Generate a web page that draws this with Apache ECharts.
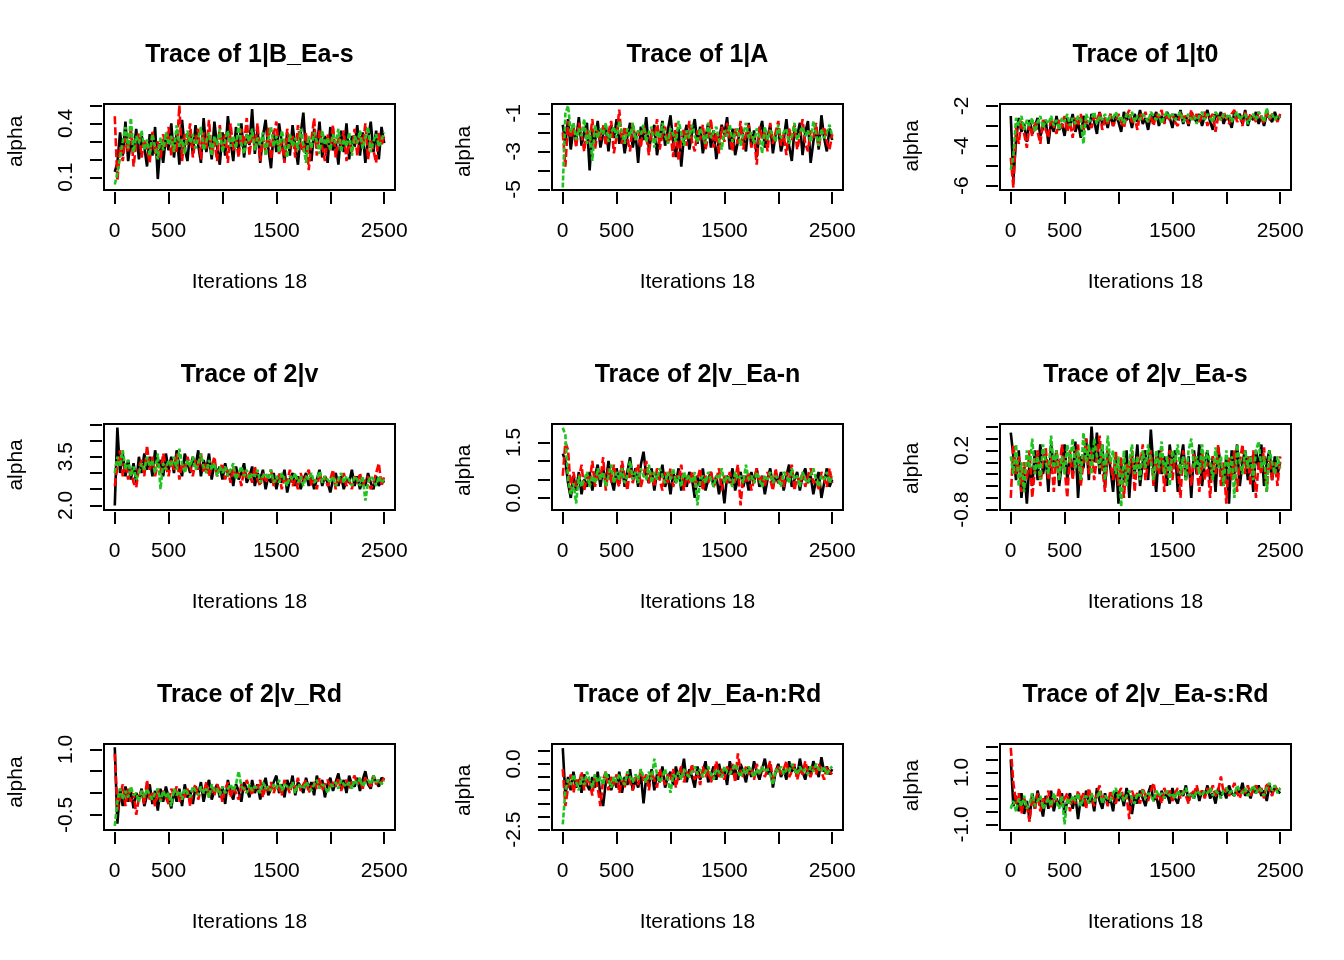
<!DOCTYPE html>
<html><head><meta charset="utf-8">
<script src="https://cdn.jsdelivr.net/npm/echarts/dist/echarts.min.js"></script>
<style>html,body{margin:0;padding:0;background:#fff}#c{width:1344px;height:960px}</style>
</head><body><div id="c"></div>
<script>
// ---------- data (one value every 25 iterations) ----------
const ITER = Array.from({length: 101}, (_, i) => (i === 0 ? 1 : i * 25));
const X_TICK_LABELS = [0, 500, 1500, 2500];
const TITLES = ['Trace of 1|B_Ea-s', 'Trace of 1|A', 'Trace of 1|t0',
  'Trace of 2|v', 'Trace of 2|v_Ea-n', 'Trace of 2|v_Ea-s',
  'Trace of 2|v_Rd', 'Trace of 2|v_Ea-n:Rd', 'Trace of 2|v_Ea-s:Rd'];
const X_NAME = 'Iterations 18';
const Y_NAME = 'alpha';
// y tick range [first, last, step], labels shown, plotted range
const Y_TICKS = [[0.1,0.5,0.1],[-5,-1,1],[-6,-2,1],[2,4.5,0.5],[0,1.5,0.5],[-0.8,0.6,0.2],[-0.5,1,0.5],[-2.5,0.5,0.5],[-1,2,0.5]];
const Y_TICK_LABELS = [[0.1,0.4],[-5,-3,-1],[-6,-4,-2],[2,3.5],[0,1.5],[-0.8,0.2],[-0.5,1],[-2.5,0],[-1,1]];
const Y_DEC = [1,0,0,1,1,1,1,1,1];
const Y_RANGE = [[0.029,0.508],[-5.03,-0.507],[-6.22,-1.9],[1.86,4.51],[-0.327,2.0],[-0.805,0.645],[-0.846,1.123],[-2.51,0.754],[-1.22,2.1]];

const p1_black = [0.13,0.18,0.35,0.22,0.41,0.19,0.30,0.24,0.37,0.20,
0.33,0.27,0.16,0.34,0.22,0.38,0.09,0.29,0.18,0.33,
0.25,0.40,0.21,0.35,0.17,0.42,0.26,0.19,0.36,0.23,
0.39,0.28,0.18,0.43,0.24,0.33,0.20,0.41,0.27,0.17,
0.35,0.22,0.44,0.30,0.19,0.38,0.25,0.40,0.21,0.34,
0.28,0.48,0.23,0.37,0.18,0.33,0.42,0.26,0.15,0.36,
0.24,0.40,0.29,0.19,0.35,0.22,0.39,0.27,0.17,0.34,
0.46,0.23,0.31,0.19,0.37,0.26,0.41,0.21,0.33,0.18,
0.38,0.25,0.30,0.17,0.36,0.24,0.40,0.20,0.33,0.27,
0.39,0.22,0.35,0.18,0.31,0.41,0.24,0.36,0.20,0.38,0.29];
const p1_red = [0.44,0.08,0.27,0.19,0.32,0.24,0.38,0.16,0.29,0.35,
0.21,0.31,0.26,0.18,0.36,0.23,0.30,0.20,0.34,0.27,
0.38,0.22,0.32,0.24,0.50,0.19,0.34,0.28,0.40,0.21,
0.31,0.37,0.20,0.35,0.26,0.42,0.22,0.30,0.19,0.39,
0.27,0.34,0.18,0.40,0.25,0.31,0.21,0.37,0.28,0.43,
0.22,0.35,0.26,0.40,0.19,0.32,0.24,0.38,0.20,0.34,
0.41,0.23,0.30,0.18,0.37,0.26,0.33,0.21,0.39,0.28,
0.24,0.35,0.14,0.31,0.43,0.22,0.36,0.27,0.19,0.34,
0.25,0.39,0.21,0.32,0.28,0.36,0.19,0.30,0.24,0.37,
0.22,0.33,0.27,0.40,0.20,0.31,0.25,0.18,0.35,0.28,0.33];
const p1_green = [0.06,0.12,0.21,0.30,0.38,0.26,0.43,0.24,0.33,0.29,
0.36,0.25,0.31,0.22,0.34,0.27,0.20,0.32,0.25,0.35,
0.28,0.33,0.24,0.39,0.27,0.31,0.23,0.36,0.29,0.34,
0.26,0.32,0.38,0.25,0.30,0.35,0.22,0.33,0.28,0.37,
0.24,0.31,0.36,0.27,0.33,0.26,0.40,0.29,0.23,0.34,
0.30,0.37,0.25,0.32,0.28,0.35,0.22,0.31,0.38,0.27,
0.33,0.24,0.36,0.29,0.21,0.34,0.27,0.32,0.25,0.37,
0.28,0.18,0.33,0.26,0.35,0.30,0.23,0.36,0.28,0.32,
0.25,0.34,0.29,0.37,0.24,0.31,0.27,0.35,0.22,0.33,
0.29,0.36,0.26,0.32,0.38,0.24,0.30,0.34,0.27,0.31,0.35];

const p2_black = [-1.6,-2.6,-1.3,-2.9,-1.8,-2.4,-1.2,-2.7,-2.0,-1.5,
-4.0,-1.9,-2.5,-1.4,-2.8,-2.1,-1.7,-3.0,-1.6,-2.3,
-1.3,-2.6,-1.9,-3.1,-2.2,-1.5,-2.8,-2.0,-3.6,-1.7,
-2.4,-1.2,-2.9,-2.1,-1.6,-3.2,-2.3,-1.4,-2.7,-1.9,
-1.1,-2.5,-3.3,-1.8,-3.8,-2.2,-1.6,-2.9,-2.0,-1.3,
-2.6,-1.7,-3.1,-2.3,-1.5,-2.8,-1.9,-3.4,-2.4,-1.6,
-2.1,-1.2,-2.9,-1.8,-3.2,-2.5,-1.7,-2.2,-3.0,-1.5,
-2.7,-1.9,-3.3,-2.0,-1.4,-2.8,-2.3,-1.6,-3.1,-2.1,
-1.8,-3.0,-2.4,-1.3,-2.7,-3.5,-1.9,-2.2,-1.5,-3.2,
-2.0,-1.4,-3.6,-2.5,-1.7,-2.9,-1.1,-2.3,-3.0,-1.8,-2.4];
const p2_red = [-2.0,-3.8,-1.4,-2.3,-1.7,-2.8,-1.5,-2.1,-3.0,-1.8,
-2.5,-1.3,-2.9,-1.9,-2.4,-1.6,-2.7,-2.0,-1.4,-3.1,
-2.2,-0.8,-2.6,-1.7,-2.3,-3.0,-1.5,-2.4,-1.9,-2.8,
-1.6,-2.2,-3.2,-1.8,-2.5,-1.3,-2.9,-2.1,-1.7,-2.6,
-2.0,-3.3,-1.5,-3.5,-2.3,-1.8,-2.7,-1.4,-2.5,-3.0,
-1.9,-2.4,-1.6,-2.9,-2.2,-1.3,-2.8,-2.0,-3.1,-1.7,
-2.5,-1.5,-2.3,-3.0,-1.8,-2.6,-1.4,-2.9,-2.1,-1.6,
-2.8,-2.2,-3.7,-1.7,-2.4,-1.9,-3.0,-1.5,-2.6,-2.0,
-1.4,-2.7,-2.1,-3.2,-1.8,-2.4,-1.6,-2.9,-2.2,-1.3,
-2.6,-3.0,-1.9,-2.3,-1.5,-2.8,-2.0,-1.7,-2.5,-2.9,-2.1];
const p2_green = [-4.9,-1.0,-0.6,-2.0,-1.5,-2.4,-1.8,-2.2,-1.3,-2.6,
-1.9,-3.5,-1.6,-2.3,-1.8,-2.1,-1.5,-2.5,-2.0,-1.7,
-2.3,-1.4,-2.0,-2.6,-1.8,-2.2,-1.5,-2.4,-1.9,-2.1,
-1.6,-2.5,-2.0,-1.7,-2.8,-1.9,-2.3,-1.5,-2.2,-2.6,
-1.8,-2.1,-2.5,-1.4,-2.0,-2.7,-1.9,-2.3,-1.6,-2.2,
-2.5,-1.8,-2.1,-2.6,-1.5,-2.3,-2.0,-1.7,-2.4,-2.9,
-1.9,-2.2,-1.6,-2.5,-2.0,-1.8,-2.7,-2.1,-1.5,-2.3,
-2.0,-2.6,-1.8,-2.2,-3.1,-1.7,-2.4,-1.9,-2.1,-2.5,
-1.6,-2.3,-2.0,-1.8,-2.6,-2.2,-1.5,-2.4,-2.0,-1.7,
-2.2,-1.9,-2.5,-1.4,-2.1,-2.7,-1.8,-2.3,-2.0,-1.6,-2.2];

const p3_black = [-2.5,-5.7,-3.7,-2.6,-3.3,-2.9,-3.8,-2.7,-3.4,-3.0,
-2.6,-3.5,-3.1,-2.7,-3.9,-2.8,-3.3,-2.5,-3.2,-2.9,
-3.5,-2.6,-3.0,-2.4,-3.3,-2.8,-3.6,-2.5,-2.9,-3.2,
-2.4,-2.8,-3.4,-2.3,-2.9,-2.6,-3.1,-2.4,-3.0,-2.5,
-2.8,-3.3,-2.3,-2.7,-2.5,-3.1,-2.4,-2.8,-2.2,-2.9,
-2.6,-3.2,-2.4,-2.7,-2.3,-3.0,-2.5,-2.8,-2.3,-2.6,
-3.1,-2.4,-2.7,-2.2,-2.9,-2.5,-3.0,-2.3,-2.6,-2.8,
-2.4,-3.0,-2.5,-2.2,-2.8,-3.2,-2.4,-2.6,-2.3,-2.9,
-2.5,-2.7,-3.1,-2.3,-2.6,-2.4,-2.9,-2.2,-3.0,-2.5,
-2.7,-2.3,-2.9,-2.5,-3.0,-2.4,-2.6,-2.8,-2.3,-2.7,-2.5];
const p3_red = [-4.6,-6.1,-3.1,-3.9,-2.7,-3.4,-4.1,-2.9,-3.5,-2.8,
-3.3,-3.9,-2.7,-3.2,-3.6,-2.6,-3.0,-3.4,-2.7,-3.1,
-2.5,-3.3,-2.8,-3.6,-2.6,-3.0,-2.4,-3.2,-2.7,-2.9,
-3.1,-2.5,-2.8,-2.3,-3.2,-2.6,-2.9,-2.4,-3.0,-2.7,
-2.4,-2.8,-3.1,-2.5,-2.2,-2.9,-2.6,-3.2,-2.4,-2.7,
-2.3,-2.8,-2.5,-3.0,-2.4,-2.6,-2.2,-2.9,-2.5,-2.7,
-2.4,-2.8,-3.0,-2.3,-2.6,-2.5,-2.9,-2.2,-2.7,-2.4,
-2.8,-2.5,-2.3,-3.0,-2.6,-2.4,-3.3,-2.5,-2.7,-2.3,
-2.6,-2.9,-2.4,-2.2,-2.8,-2.5,-3.0,-2.3,-2.7,-2.4,
-2.5,-2.8,-2.3,-2.6,-2.9,-2.2,-2.7,-2.4,-2.5,-2.8,-2.4];
const p3_green = [-5.2,-4.5,-2.6,-3.0,-2.5,-3.2,-2.7,-3.0,-2.6,-3.3,
-2.8,-2.5,-3.1,-2.7,-2.9,-2.5,-3.0,-2.7,-3.2,-2.6,
-2.8,-2.4,-3.0,-2.6,-2.9,-2.5,-2.7,-3.9,-2.4,-2.8,
-2.6,-2.3,-2.9,-2.5,-2.7,-2.4,-2.8,-2.5,-2.6,-2.3,
-2.7,-2.5,-2.9,-2.4,-2.6,-2.3,-2.8,-2.5,-2.7,-2.4,
-2.6,-2.8,-2.3,-2.5,-2.7,-2.4,-2.9,-2.5,-2.3,-2.6,
-2.4,-2.7,-2.5,-2.3,-2.8,-2.6,-2.4,-2.7,-2.5,-2.9,
-2.5,-2.3,-2.7,-2.4,-2.6,-2.8,-2.3,-2.5,-2.7,-2.4,
-2.6,-2.4,-2.8,-2.5,-2.3,-2.7,-2.5,-2.4,-2.9,-2.6,
-2.4,-2.7,-2.3,-2.5,-2.8,-2.1,-2.6,-2.4,-2.7,-2.5,-2.6];

const p4_black = [2.0,4.4,3.0,3.6,2.9,3.4,2.8,3.3,2.7,3.5,
3.0,3.6,3.1,3.5,2.9,3.7,3.2,3.4,2.9,3.6,
3.1,3.5,3.0,3.7,3.2,2.9,3.6,3.3,3.0,3.5,
3.2,3.7,2.9,3.4,3.1,3.6,2.8,3.3,3.0,3.2,
2.8,3.3,2.9,3.1,2.6,3.2,2.8,3.0,3.3,2.7,
2.9,3.2,2.6,3.0,2.8,3.1,2.5,2.9,2.7,3.0,
2.5,2.9,2.7,3.1,2.4,2.8,3.0,2.6,2.9,2.5,
2.8,3.0,2.6,2.9,2.5,2.8,3.1,2.6,2.9,2.7,
2.4,2.8,3.0,2.6,2.9,2.5,2.8,2.7,3.1,2.6,
2.9,2.5,2.8,2.6,3.0,2.7,2.5,2.9,2.6,2.8,2.7];
const p4_red = [2.6,3.2,3.7,2.9,3.3,2.8,3.1,2.7,2.55,3.2,
3.4,2.9,3.85,3.1,3.5,2.9,3.3,3.0,3.6,3.2,
2.9,3.4,3.1,3.6,2.8,3.3,3.0,3.5,3.2,2.9,
3.4,3.1,3.6,3.0,3.3,2.9,3.2,3.5,2.9,3.1,
3.3,2.8,3.1,2.7,3.2,2.9,3.0,2.6,3.1,2.8,
3.0,2.7,3.2,2.8,2.6,3.0,2.7,2.9,3.1,2.6,
2.8,3.0,2.5,2.9,2.7,3.1,2.6,2.8,2.5,3.0,
2.7,2.9,3.1,2.6,2.8,2.5,3.0,2.7,2.9,2.6,
2.8,3.1,2.5,2.9,2.7,3.0,2.6,2.8,2.5,2.9,
2.7,3.0,2.6,2.8,2.9,2.5,2.7,3.0,3.3,2.6,2.9];
const p4_green = [3.0,3.5,3.2,3.7,3.1,3.4,2.9,3.2,2.8,3.0,
3.3,3.1,3.5,3.2,3.4,3.0,3.6,2.5,3.3,3.1,
3.4,3.2,3.5,3.1,3.75,3.3,3.0,3.4,3.2,3.5,
3.1,3.3,3.6,3.2,3.0,3.4,3.1,3.3,2.9,3.2,
3.0,3.2,2.9,3.1,3.3,2.8,3.0,3.2,2.9,3.1,
2.8,3.0,2.9,3.1,2.7,2.9,3.0,2.8,3.1,2.7,
2.9,2.7,3.0,2.8,2.6,2.9,2.8,3.0,2.7,2.9,
2.6,2.9,2.8,3.0,2.7,2.8,3.05,2.7,2.9,2.8,
2.7,2.9,2.6,2.8,3.0,2.7,2.9,2.8,2.6,2.9,
2.8,2.6,2.9,2.15,2.7,2.9,2.8,2.6,2.9,2.7,2.8];

const p5_black = [1.2,1.0,0.4,0.0,0.6,0.2,0.7,0.1,0.5,0.3,
0.7,0.2,0.6,0.9,0.3,0.8,0.4,1.0,0.5,0.2,
0.8,0.4,0.9,0.3,0.7,1.1,0.5,0.8,0.3,0.9,
1.25,0.6,0.4,0.8,0.2,0.7,0.5,0.9,0.3,0.6,
0.1,0.7,0.4,0.8,0.2,0.6,0.3,0.7,0.5,0.0,
0.6,0.3,0.8,0.2,0.5,0.7,0.3,0.6,0.1,0.5,
-0.15,0.6,0.4,0.8,0.2,0.5,0.7,0.3,0.6,0.2,
0.7,0.4,0.8,0.3,0.6,0.1,0.5,0.8,0.3,0.6,
0.4,0.7,0.2,0.6,0.9,0.3,0.5,0.7,0.2,0.6,
0.8,0.4,0.6,0.1,0.5,0.7,0.0,0.4,0.8,0.3,0.5];
const p5_red = [0.6,1.5,1.3,0.2,0.7,0.3,0.5,0.9,0.2,0.6,
0.4,1.0,0.3,0.7,0.5,1.1,0.2,0.8,0.4,0.9,
0.5,0.3,1.0,0.6,0.2,0.8,0.4,0.7,0.9,0.3,
0.6,1.0,0.4,0.7,0.3,0.8,0.5,0.2,0.7,0.4,
0.8,0.3,0.6,0.5,0.9,0.2,0.6,0.4,0.7,0.3,
0.5,0.8,0.2,0.6,0.4,0.7,0.3,0.5,0.8,0.2,
0.6,0.4,0.7,0.3,0.5,0.9,-0.2,0.6,0.4,0.7,
0.2,0.5,0.8,0.4,0.6,0.3,0.7,0.5,0.2,0.8,
0.4,0.6,0.3,0.7,0.5,0.9,0.2,0.6,0.4,0.7,
0.3,0.6,0.8,0.4,0.5,0.2,0.7,0.5,0.3,0.8,0.4];
const p5_green = [1.9,1.7,0.5,0.1,0.4,-0.15,0.6,0.3,0.5,0.7,
0.3,0.6,0.4,0.8,0.5,0.7,0.3,0.6,0.9,0.4,
0.7,0.5,0.8,0.4,0.6,1.0,0.5,0.7,0.4,0.8,
0.6,0.5,0.9,0.4,0.7,0.5,0.8,0.6,0.4,0.7,
0.5,0.8,0.4,0.6,0.3,0.7,0.5,0.6,0.4,0.7,
-0.2,0.5,0.6,0.4,0.7,0.5,0.3,0.6,0.5,0.8,
0.4,0.6,0.5,0.3,0.7,0.5,0.6,0.4,0.9,0.5,
0.6,0.4,0.7,0.5,0.3,0.6,0.5,0.7,0.4,0.6,
0.5,0.3,0.7,0.6,0.4,0.8,0.5,0.6,0.3,0.7,
0.5,0.4,0.6,0.8,0.5,0.3,0.6,0.5,0.7,0.4,0.6];

const p6_black = [0.5,0.1,-0.3,0.2,-0.6,-0.1,-0.7,0.0,-0.4,0.2,
-0.3,0.3,-0.2,0.1,-0.5,0.3,-0.1,0.2,-0.4,0.0,
0.3,-0.3,0.1,-0.2,0.35,-0.6,0.1,-0.1,0.4,-0.3,
0.6,0.0,0.5,-0.2,0.3,-0.4,0.2,-0.1,-0.5,0.1,
-0.7,0.0,-0.3,0.2,-0.6,0.1,-0.2,0.3,-0.4,0.0,
0.2,-0.3,0.55,-0.1,-0.5,0.2,-0.2,0.1,-0.4,0.3,
-0.1,0.2,-0.5,0.0,0.3,-0.3,0.1,-0.6,0.2,-0.2,
0.3,-0.4,0.0,0.2,-0.3,0.1,-0.5,0.25,-0.1,-0.4,
0.1,-0.7,0.2,-0.2,0.3,-0.4,0.0,0.2,-0.3,0.1,
-0.5,0.2,-0.1,0.3,-0.4,0.0,0.2,-0.3,0.1,-0.2,0.0];
const p6_red = [-0.6,0.3,-0.2,0.1,-0.5,0.0,-0.3,0.2,-0.6,-0.1,
0.2,-0.4,0.0,0.25,-0.3,0.1,-0.5,0.2,-0.2,0.3,
-0.1,-0.6,0.2,-0.3,0.1,0.3,-0.4,0.0,0.4,-0.2,
0.2,-0.3,0.1,0.45,-0.1,-0.5,0.2,0.0,-0.3,0.2,
-0.4,0.1,-0.6,0.0,-0.2,0.2,-0.5,0.1,-0.1,0.3,
-0.3,0.0,0.2,-0.4,0.1,-0.2,0.25,-0.5,0.0,0.2,
-0.3,0.1,-0.1,-0.6,0.2,-0.2,0.0,-0.4,0.15,-0.1,
-0.5,0.2,-0.3,0.0,-0.6,0.1,-0.2,0.3,-0.4,0.0,
-0.7,0.1,-0.3,0.2,-0.5,0.0,0.3,-0.2,0.1,-0.4,
0.2,-0.6,0.0,-0.2,0.25,-0.5,0.1,-0.3,0.0,-0.4,0.1];
const p6_green = [0.1,-0.2,0.3,-0.4,0.0,-0.5,0.2,-0.1,0.4,-0.2,
0.1,-0.3,0.3,0.0,-0.2,0.45,-0.1,0.2,-0.3,0.1,
-0.2,0.3,0.0,0.4,-0.1,0.2,-0.3,0.5,0.0,0.3,
-0.2,0.4,0.1,-0.1,0.3,-0.3,0.45,0.0,0.2,-0.2,
0.1,-0.75,0.2,-0.4,0.0,0.3,-0.2,0.1,-0.3,0.2,
-0.1,0.3,0.0,-0.3,0.2,-0.1,0.35,-0.2,0.1,-0.4,
0.2,0.0,0.3,-0.2,0.1,-0.3,0.2,0.4,-0.1,0.1,
-0.2,0.3,-0.1,0.2,0.0,-0.3,0.25,-0.1,0.1,-0.4,
0.2,-0.2,0.1,-0.6,0.3,0.0,-0.2,0.2,-0.1,0.1,
-0.3,0.2,0.35,-0.1,0.1,-0.5,0.2,0.0,-0.2,0.1,-0.1];

const p7_black = [1.05,-0.7,0.1,-0.3,0.15,-0.2,0.05,-0.35,0.0,-0.15,
0.1,-0.3,-0.05,0.2,-0.25,0.05,-0.4,0.1,-0.2,0.15,
-0.1,-0.35,0.05,-0.2,0.1,-0.3,0.2,-0.1,0.05,-0.25,
0.15,-0.05,0.25,-0.2,0.1,0.3,-0.15,0.05,0.2,-0.1,
0.15,-0.25,0.3,0.0,-0.15,0.2,0.05,-0.2,0.25,0.1,
-0.1,0.3,0.0,0.2,-0.15,0.15,0.35,-0.05,0.1,0.25,
0.4,0.0,0.2,-0.1,0.3,0.1,0.4,-0.05,0.25,0.15,
0.0,0.35,0.1,0.25,-0.05,0.4,0.15,0.3,-0.1,0.2,
0.35,0.05,0.25,0.45,0.1,0.3,0.0,0.4,0.2,0.15,
0.35,0.05,0.3,0.5,0.2,0.1,0.4,0.25,0.15,0.35,0.3];
const p7_red = [0.9,-0.4,-0.1,0.2,-0.3,0.1,-0.2,0.0,-0.5,-0.1,
0.05,-0.25,0.3,-0.15,0.0,-0.3,0.1,-0.2,0.05,-0.1,
-0.25,0.1,-0.05,0.15,-0.2,0.0,-0.1,0.1,-0.3,0.05,
0.2,-0.15,0.1,0.0,0.25,-0.1,0.15,-0.05,0.2,0.05,
-0.2,0.1,0.25,-0.1,0.15,0.0,-0.15,0.2,0.05,0.3,
0.1,-0.05,0.2,0.1,0.3,-0.1,0.15,0.05,0.25,0.0,
0.2,0.1,-0.05,0.3,0.15,0.0,0.25,0.1,0.35,0.05,
0.2,0.3,0.0,0.15,0.25,0.1,0.35,0.05,0.2,0.3,
0.1,0.25,0.15,0.35,0.05,0.2,0.3,0.1,0.25,0.4,
0.2,0.3,0.1,0.35,0.25,0.15,0.4,0.2,0.3,0.25,0.35];
const p7_green = [-0.75,-0.2,0.1,-0.15,0.05,-0.1,0.15,-0.05,0.0,-0.2,
0.05,-0.1,0.1,-0.05,-0.15,0.0,0.1,-0.2,0.05,-0.1,
0.0,-0.3,0.1,-0.05,0.05,-0.15,0.1,0.0,-0.1,0.15,
0.05,-0.05,0.15,0.0,0.1,-0.1,0.2,0.05,0.1,-0.05,
0.15,0.0,0.1,0.2,0.05,0.2,0.5,0.15,0.1,0.0,
0.2,0.05,0.15,0.1,0.0,0.25,0.1,0.15,0.05,0.2,
0.1,0.3,0.05,0.2,0.15,0.1,0.25,0.0,0.2,0.15,
0.1,0.25,0.15,0.05,0.2,0.3,0.1,0.2,0.15,0.0,
0.2,0.15,0.25,0.1,0.3,0.2,0.15,0.25,0.1,0.3,
0.2,0.35,0.15,0.25,0.3,0.2,0.4,0.25,0.3,0.2,0.3];

const p8_black = [0.6,-1.2,-0.5,-1.0,-0.3,-0.9,-0.6,-1.1,-0.4,-0.8,
-1.0,-0.5,-0.9,-0.3,-1.2,-1.6,-0.7,-0.4,-1.0,-0.6,
-0.9,-0.3,-1.1,-0.5,-0.8,-0.2,-1.0,-0.6,-0.9,-0.4,
-1.5,-0.5,-0.8,-0.2,-1.0,-0.4,-0.7,-0.1,-0.9,-0.5,
-0.3,-0.8,-0.1,-0.6,-0.4,0.2,-0.7,-0.2,-0.5,-0.9,
-0.1,-0.6,-0.3,0.1,-0.7,-0.4,-0.1,-0.6,0.0,-0.5,
-0.2,-0.8,0.1,-0.4,-0.2,-0.6,0.0,-0.3,-0.7,-0.1,
-0.5,0.1,-0.3,-0.6,-0.2,0.2,-0.4,-0.1,-0.9,-0.3,
0.0,-0.5,-0.2,-0.6,0.1,-0.3,-0.1,-0.5,0.2,-0.3,
-0.6,-0.1,-0.4,0.1,-0.2,-0.5,0.25,-0.3,-0.1,-0.4,-0.2];
const p8_red = [-0.2,-1.6,-0.9,-0.4,-1.1,-0.6,-0.8,-0.3,-1.0,-0.5,
-0.7,-1.2,-0.4,-0.9,-1.6,-0.6,-0.3,-1.0,-0.5,-0.8,
-0.4,-1.1,-0.6,-0.9,-0.3,-0.7,-1.0,-0.5,-0.8,-0.2,
-0.7,-0.4,-1.0,-0.3,-0.6,-0.9,-0.2,-0.5,-0.8,-0.4,
-0.6,-0.2,-0.9,-0.4,-0.1,-0.7,-0.3,-0.5,0.0,-0.6,
-0.3,-0.8,-0.1,-0.5,-0.2,-0.7,-0.4,0.1,-0.5,-0.2,
-0.6,-0.1,-0.4,0.0,-0.7,0.4,-0.3,-0.5,-0.1,-0.4,
-0.2,-0.6,0.0,-0.4,-0.1,-0.5,-0.2,0.1,-0.6,-0.3,
-0.1,-0.4,-0.2,0.1,-0.5,-0.3,0.0,-0.6,-0.2,-0.4,
0.1,-0.3,-0.5,-0.1,-0.4,0.0,-0.3,-0.6,-0.1,-0.3,-0.4];
const p8_green = [-2.3,-1.0,-0.6,-0.8,-0.4,-0.7,-1.0,-0.5,-0.8,-0.3,
-0.6,-0.9,-0.4,-0.7,-0.5,-0.8,-0.3,-0.6,-0.9,-0.5,
-0.7,-0.4,-0.6,-0.8,-0.3,-0.5,-0.7,-0.4,-0.6,-0.2,
-0.5,-0.7,-0.3,-0.6,0.2,-0.4,-0.7,-0.5,-0.2,-0.6,
-1.1,-0.4,-0.5,-0.3,-0.6,-0.2,-0.4,-0.5,-0.3,-0.1,
-0.4,-0.2,-0.5,-0.3,-0.1,-0.4,-0.6,-0.2,-0.3,-0.5,
-0.1,-0.3,-0.4,-0.2,0.0,-0.3,-0.5,-0.2,-0.4,-0.1,
-0.3,-0.5,-0.2,-0.4,-0.1,-0.3,-0.2,-0.4,-0.8,-0.2,
-0.3,-0.1,-0.4,-0.2,-0.3,0.0,-0.2,-0.4,-0.1,-0.3,
-0.2,-0.4,-0.1,-0.3,0.0,-0.2,-0.3,-0.1,-0.4,-0.2,-0.1];

const p9_black = [1.5,-0.3,0.1,-0.5,0.2,-0.6,-0.1,-0.8,0.2,-0.4,
0.3,-0.2,-0.7,0.1,-0.4,0.3,-0.5,0.0,-0.3,0.2,
-0.6,-0.1,0.2,-0.4,0.1,-0.8,0.0,-0.3,0.3,-0.2,
0.1,-0.5,0.4,-0.1,-0.4,0.2,-0.2,0.0,-0.5,0.3,
-0.1,0.2,-0.3,0.4,0.0,-0.6,0.1,-0.2,0.3,0.0,
-0.3,0.2,0.5,-0.1,0.1,-0.4,0.3,0.0,0.2,-0.2,
0.4,0.0,-0.2,0.3,0.1,0.5,-0.1,0.2,0.0,0.4,
-0.1,0.3,0.1,0.5,0.0,0.2,-0.2,0.4,0.1,0.3,
0.0,0.5,0.2,0.1,0.4,0.2,0.6,0.1,0.3,0.0,
0.4,0.2,0.5,0.1,0.3,-0.1,0.5,0.2,0.4,0.3,0.2];
const p9_red = [1.95,0.6,-0.2,0.2,-0.6,0.0,-0.3,-0.9,0.1,-0.4,
0.2,-0.5,0.0,-0.2,0.3,-0.4,0.1,-0.1,0.4,-0.3,
0.0,0.2,-0.5,0.1,-0.2,0.3,-0.1,0.2,-0.4,0.4,
0.0,-0.3,0.2,0.5,-0.1,0.1,-0.3,0.3,0.0,-0.2,
0.2,0.4,-0.1,0.1,-0.8,0.3,0.0,0.2,-0.2,0.4,
0.1,-0.1,0.3,0.6,0.0,0.2,-0.2,0.4,0.1,0.3,
-0.1,0.2,0.4,0.0,0.3,0.1,-0.2,0.3,0.2,0.5,
0.1,0.3,0.0,0.4,0.2,0.5,0.1,0.3,0.85,0.2,
0.4,0.1,0.3,0.6,0.2,0.0,0.4,0.2,0.5,0.1,
0.3,0.5,0.2,0.4,0.0,0.6,0.3,0.1,0.5,0.3,0.4];
const p9_green = [-0.4,-0.1,-0.5,0.0,-0.3,0.1,-0.4,-0.2,0.2,-0.3,
-0.1,0.1,-0.4,-0.2,0.0,-0.3,0.2,-0.1,-0.4,0.1,
-1.0,0.0,-0.2,0.1,-0.1,0.2,-0.3,0.0,0.1,-0.2,
0.2,-0.1,0.0,0.3,-0.2,0.1,0.0,-0.1,0.2,0.4,
0.0,0.2,-0.1,0.1,0.3,0.0,-0.2,0.2,0.1,0.3,
0.0,0.2,0.1,-0.1,0.3,0.1,0.2,0.0,0.3,0.1,
0.2,0.0,0.3,0.1,0.2,0.4,0.1,0.2,0.0,0.3,
0.2,0.1,0.3,0.2,0.4,0.1,0.3,0.2,0.0,0.3,
0.4,0.2,0.3,0.1,0.5,0.3,0.2,0.4,0.1,0.3,
0.5,0.2,0.4,0.3,0.1,0.4,0.6,0.3,0.5,0.2,0.4];

const CHAINS = [
  [p1_black, p1_red, p1_green], [p2_black, p2_red, p2_green], [p3_black, p3_red, p3_green],
  [p4_black, p4_red, p4_green], [p5_black, p5_red, p5_green], [p6_black, p6_red, p6_green],
  [p7_black, p7_red, p7_green], [p8_black, p8_red, p8_green], [p9_black, p9_red, p9_green]];

// ---------- layout / style ----------
const FONT = '"Liberation Sans", Arial, Helvetica, sans-serif';
const CHAIN_COLORS = ['#000000', '#FF0000', '#1FC41F'];
const CHAIN_DASH = ['solid', [8, 3], [5, 2]];
const XMIN = -99, XMAX = 2600;
const BOX_LEFT = [104, 552, 1000], BOX_TOP = [104, 424, 744], BOX_W = 291, BOX_H = 86;
const GAP = 2, TICK = 12, FS = 21;

const grid = [], xAxis = [], yAxis = [], series = [], graphic = [];
TITLES.forEach((title, k) => {
  const r = Math.floor(k / 3), c = k % 3;
  const L = BOX_LEFT[c], T = BOX_TOP[r];
  const [ymin, ymax] = Y_RANGE[k];
  const [tmin, tmax, step] = Y_TICKS[k];
  // data box
  grid.push({left: L, top: T, width: BOX_W, height: BOX_H, show: true,
    borderColor: '#000', borderWidth: 2, backgroundColor: 'rgba(0,0,0,0)'});
  xAxis.push({gridIndex: 2 * k, type: 'value', min: XMIN, max: XMAX, show: false,
    axisLine: {onZero: false}});
  yAxis.push({gridIndex: 2 * k, type: 'value', min: ymin, max: ymax, show: false,
    axisLine: {onZero: false}});
  // axes grid spanning only the tick range
  const ax0 = L + (0 - XMIN) / (XMAX - XMIN) * BOX_W;
  const axW = 2500 / (XMAX - XMIN) * BOX_W;
  const ay0 = T + (ymax - tmax) / (ymax - ymin) * BOX_H;
  const ayH = (tmax - tmin) / (ymax - ymin) * BOX_H;
  grid.push({left: ax0, top: ay0, width: axW, height: ayH});
  const lineStyle = {color: '#000', width: 2};
  xAxis.push({gridIndex: 2 * k + 1, type: 'value', min: 0, max: 2500, interval: 500,
    position: 'bottom', offset: (T + BOX_H + GAP) - (ay0 + ayH),
    axisLine: {show: false, onZero: false, lineStyle},
    axisTick: {show: true, inside: false, length: TICK, lineStyle},
    splitLine: {show: false},
    axisLabel: {show: true, margin: 29, fontSize: FS, fontFamily: FONT, color: '#000',
      showMinLabel: true, showMaxLabel: true,
      formatter: v => X_TICK_LABELS.includes(Math.round(v)) ? String(Math.round(v)) : ''},
    name: X_NAME, nameLocation: 'middle', nameGap: 80,
    nameTextStyle: {fontSize: FS, fontFamily: FONT, color: '#000'}});
  const shown = Y_TICK_LABELS[k];
  yAxis.push({gridIndex: 2 * k + 1, type: 'value', min: tmin, max: tmax, interval: step,
    position: 'left', offset: ax0 - (L - GAP),
    axisLine: {show: false, onZero: false, lineStyle},
    axisTick: {show: true, inside: false, length: TICK, lineStyle},
    splitLine: {show: false},
    axisLabel: {show: true, rotate: 90, margin: 25, fontSize: FS, fontFamily: FONT, color: '#000',
      showMinLabel: true, showMaxLabel: true,
      formatter: v => shown.some(s => Math.abs(s - v) < 1e-6) ? Number(v).toFixed(Y_DEC[k]) : ''},
    name: Y_NAME, nameLocation: 'middle', nameRotate: 90, nameGap: 75,
    nameTextStyle: {fontSize: FS, fontFamily: FONT, color: '#000'}});
  graphic.push({type: 'text', x: L + BOX_W / 2, y: T - 49,
    style: {text: title, font: 'bold 25px ' + FONT, fill: '#000', textAlign: 'center', textVerticalAlign: 'middle', verticalAlign: 'middle'}});
  CHAINS[k].forEach((vals, j) => {
    series.push({type: 'line', xAxisIndex: 2 * k, yAxisIndex: 2 * k,
      data: vals.map((v, i) => [ITER[i], v]), showSymbol: false, symbol: 'none',
      clip: true, silent: true,
      lineStyle: {color: CHAIN_COLORS[j], width: 2.6, type: CHAIN_DASH[j]}, z: 2 + j});
  });
});

const chart = echarts.init(document.getElementById('c'), null, {renderer: 'canvas'});
chart.setOption({backgroundColor: '#fff', animation: false, grid, xAxis, yAxis, series, graphic});
</script></body></html>
